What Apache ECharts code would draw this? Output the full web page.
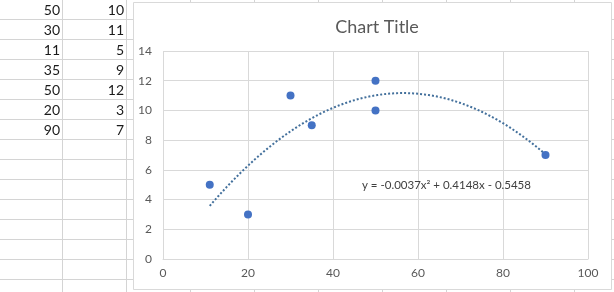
<!DOCTYPE html>
<html><head><meta charset="utf-8">
<script src="https://cdn.jsdelivr.net/npm/echarts@6/dist/echarts.min.js"></script>
<style>html,body{margin:0;padding:0;background:#fff}#c{width:614px;height:292px}</style>
</head><body><div id="c"></div>
<script>
const xValues = [50, 30, 11, 35, 50, 20, 90];
const yValues = [10, 11, 5, 9, 12, 3, 7];
const xTicks = [0, 20, 40, 60, 80, 100];
const yTicks = [0, 2, 4, 6, 8, 10, 12, 14];
const chartTitle = 'Chart Title';

// least squares quadratic fit (Excel polynomial trendline, order 2)
function polyFit2(xs, ys) {
  let n = xs.length, s = [0,0,0,0,0], t = [0,0,0];
  for (let i = 0; i < n; i++) {
    let p = 1;
    for (let k = 0; k < 5; k++) { s[k] += p; if (k < 3) t[k] += p * ys[i]; p *= xs[i]; }
  }
  const A = [[s[0], s[1], s[2], t[0]], [s[1], s[2], s[3], t[1]], [s[2], s[3], s[4], t[2]]];
  for (let i = 0; i < 3; i++) {
    for (let j = i + 1; j < 3; j++) {
      const f = A[j][i] / A[i][i];
      for (let k = i; k < 4; k++) A[j][k] -= f * A[i][k];
    }
  }
  const c = [0, 0, 0];
  for (let i = 2; i >= 0; i--) {
    let v = A[i][3];
    for (let k = i + 1; k < 3; k++) v -= A[i][k] * c[k];
    c[i] = v / A[i][i];
  }
  return c; // c0 + c1 x + c2 x^2
}
const coef = polyFit2(xValues, yValues);
const xmin = Math.min(...xValues), xmax = Math.max(...xValues);
const trend = [];
for (let x = xmin; x <= xmax; x += 0.5) trend.push([x, coef[0] + coef[1] * x + coef[2] * x * x]);
const fmt = v => Math.abs(v).toFixed(4);
const eqText = 'y = ' + (coef[2] < 0 ? '-' : '') + fmt(coef[2]) + 'x² ' + (coef[1] < 0 ? '- ' : '+ ') + fmt(coef[1]) + 'x ' + (coef[0] < 0 ? '- ' : '+ ') + fmt(coef[0]);

const FONT = 'Lato';
const GRID = '#d4d4d4';
const g = [];
// worksheet gridlines
for (let k = 0; k < 15; k++) {
  const y = 19.5 + 20 * k;
  g.push({type: 'line', shape: {x1: 0, y1: y, x2: 614, y2: y}, style: {stroke: GRID, lineWidth: 1}, z: 0});
}
[62.5, 126.5, 190.5, 254.5, 318.5, 382.5, 446.5, 510.5, 574.5].forEach(x => {
  g.push({type: 'line', shape: {x1: x, y1: 0, x2: x, y2: 292}, style: {stroke: GRID, lineWidth: 1}, z: 0});
});
// cell values
xValues.forEach((v, i) => {
  g.push({type: 'text', style: {text: String(v), x: 60, y: 10.5 + 20 * i, textAlign: 'right', textVerticalAlign: 'middle', font: '14px ' + FONT, fill: '#1a1a1a'}, z: 1});
  g.push({type: 'text', style: {text: String(yValues[i]), x: 124, y: 10.5 + 20 * i, textAlign: 'right', textVerticalAlign: 'middle', font: '14px ' + FONT, fill: '#1a1a1a'}, z: 1});
});
// chart area
g.push({type: 'rect', shape: {x: 133.5, y: 2.5, width: 478, height: 287}, style: {fill: '#fff', stroke: '#d9d9d9', lineWidth: 1}, z: 2});
// equation label
g.push({type: 'text', z: 50, style: {text: eqText, x: 362, y: 185, textVerticalAlign: 'middle', font: '11.5px ' + FONT, fill: '#404040'}});

const chart = echarts.init(document.getElementById('c'), null, {renderer: 'canvas'});
chart.setOption({
  animation: false,
  backgroundColor: '#fff',
  graphic: g,
  title: {text: chartTitle, left: 372, top: 13, textAlign: 'center',
    textStyle: {fontFamily: FONT, fontSize: 18, fontWeight: 'normal', color: '#595959'}},
  grid: {left: 163, right: 26, top: 51, bottom: 33, containLabel: false, z: 10},
  xAxis: {type: 'value', min: xTicks[0], max: xTicks[xTicks.length - 1], interval: 20,
    axisLine: {show: true, lineStyle: {color: '#d9d9d9'}}, axisTick: {show: false},
    axisLabel: {fontFamily: FONT, fontSize: 12, color: '#595959', margin: 8},
    splitLine: {show: true, lineStyle: {color: '#d9d9d9'}}, z: 10},
  yAxis: {type: 'value', min: yTicks[0], max: yTicks[yTicks.length - 1], interval: 2,
    axisLine: {show: false}, axisTick: {show: false},
    axisLabel: {fontFamily: FONT, fontSize: 12, color: '#595959', margin: 11},
    splitLine: {show: true, lineStyle: {color: '#d9d9d9'}}, z: 10},
  series: [
    {type: 'line', data: trend, showSymbol: false, symbol: 'none', smooth: false, z: 11,
      lineStyle: {color: '#43709c', width: 2, type: [2, 2]}},
    {type: 'scatter', data: xValues.map((x, i) => [x, yValues[i]]), symbolSize: 8, z: 12,
      itemStyle: {color: '#4472C4', opacity: 1}}
  ]
});
</script></body></html>
